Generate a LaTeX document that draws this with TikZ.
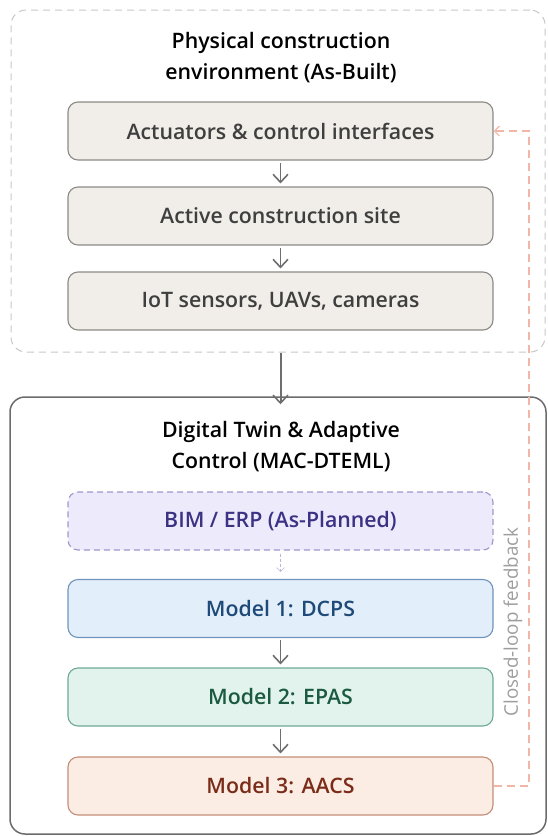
\documentclass[tikz,border=0pt]{standalone}
\usepackage{fontspec}
\setmainfont{Open Sans}[BoldFont={Open Sans Semibold}]
\usetikzlibrary{arrows.meta,positioning}

\definecolor{physfill}{HTML}{F1EEE9}
\definecolor{physdraw}{HTML}{8C8A86}
\definecolor{phystext}{HTML}{3F3F3F}
\definecolor{bimfill}{HTML}{ECEAFB}
\definecolor{bimdraw}{HTML}{A096CC}
\definecolor{bimtext}{HTML}{3B3283}
\definecolor{mafill}{HTML}{E3EEFB}
\definecolor{madraw}{HTML}{7094BC}
\definecolor{matext}{HTML}{1E4A78}
\definecolor{mbfill}{HTML}{E1F3EC}
\definecolor{mbdraw}{HTML}{6EAA92}
\definecolor{mbtext}{HTML}{1B5A40}
\definecolor{mcfill}{HTML}{FBECE4}
\definecolor{mcdraw}{HTML}{C48E7A}
\definecolor{mctext}{HTML}{7A2C18}
\definecolor{fbline}{HTML}{F2B6A8}
\definecolor{arrgray}{HTML}{6E6E6E}

\tikzset{
  frame/.style={rounded corners=15pt, line width=1pt},
  stagebox/.style={rounded corners=10pt, line width=1.1pt, minimum width=425pt,
    minimum height=58pt, font=\fontsize{21.3}{26}\selectfont\bfseries},
  title/.style={align=center, font=\fontsize{21.3}{31}\selectfont\bfseries},
  flow/.style={-{Straight Barb[length=8pt,width=15pt,line width=1.6pt]}, arrgray, line width=1.6pt,
    shorten <=2pt, shorten >=3pt},
}

\begin{document}
\begin{tikzpicture}[x=1pt,y=-1pt]
  \useasboundingbox (0,0) rectangle (547,836);

  % Ambiente fisico (As-Built)
  \node (phys) [frame, draw=black!22, dashed, dash pattern=on 7pt off 5pt,
    minimum width=534pt, minimum height=342pt] at (278,181) {};
  \node (phystitle) [title] at (281,57.5) {Physical construction\\environment (As-Built)};
  \node (act) [stagebox, fill=physfill, draw=physdraw, text=phystext] at (280.5,131) {Actuators \& control interfaces};
  \node (site) [stagebox, fill=physfill, draw=physdraw, text=phystext] at (280.5,216) {Active construction site};
  \node (iot) [stagebox, fill=physfill, draw=physdraw, text=phystext] at (280.5,301) {IoT sensors, UAVs, cameras};
  \draw[flow] (act) -- (site);
  \draw[flow] (site) -- (iot);

  % Digital twin
  \node (twin) [frame, draw=black!58, line width=1.5pt,
    minimum width=536pt, minimum height=437pt] at (278,615.5) {};
  \node (twintitle) [title] at (281,446.5) {Digital Twin \& Adaptive\\Control (MAC-DTEML)};
  \draw[flow, line width=2pt, shorten <=0pt, shorten >=-8pt] (iot.south |- phys.south) -- (iot.south |- twin.north);

  \node (bim) [stagebox, fill=bimfill, draw=bimdraw, text=bimtext, dashed, dash pattern=on 6pt off 4pt] at (280.5,521) {BIM / ERP (As-Planned)};
  \node (dcps) [stagebox, fill=mafill, draw=madraw, text=matext] at (280.5,608.5) {Model 1: DCPS};
  \node (epas) [stagebox, fill=mbfill, draw=mbdraw, text=mbtext] at (280.5,697) {Model 2: EPAS};
  \node (aacs) [stagebox, fill=mcfill, draw=mcdraw, text=mctext] at (280.5,786) {Model 3: AACS};
  \draw[-{Straight Barb[length=4pt,width=8pt]}, bimdraw!70, line width=0.6pt, dashed,
    dash pattern=on 3pt off 2pt, shorten <=3pt, shorten >=7pt] (bim) -- (dcps);
  \draw[flow] (dcps) -- (epas);
  \draw[flow] (epas) -- (aacs);

  % Retroazione
  \coordinate (fbtop) at (529,131);
  \draw[fbline, line width=1.2pt, dashed, dash pattern=on 8pt off 5pt,
    -{Straight Barb[length=5pt,width=10pt]}] (aacs.east) -| (fbtop) -- (act.east);
  \node (fblabel) [rotate=90, text=black!38, font=\fontsize{18.8}{22}\selectfont] at (513,622) {Closed-loop feedback};
\end{tikzpicture}
\end{document}
